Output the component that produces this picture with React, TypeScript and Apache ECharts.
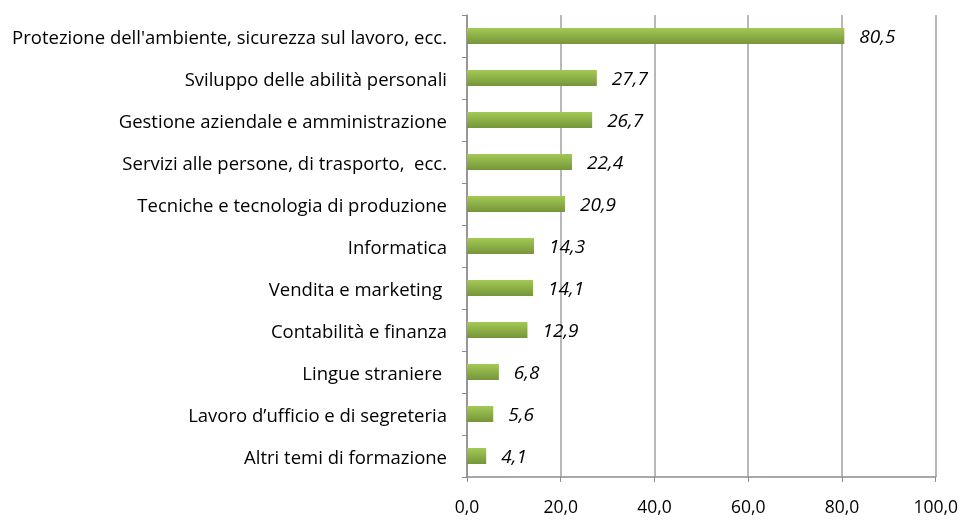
import React, { useEffect, useRef } from "react";
import * as echarts from "echarts";

const categories = [
  "Altri temi di formazione",
  "Lavoro d\u2019ufficio e di segreteria",
  "Lingue straniere ",
  "Contabilità e finanza",
  "Vendita e marketing ",
  "Informatica",
  "Tecniche e tecnologia di produzione",
  "Servizi alle persone, di trasporto,  ecc.",
  "Gestione aziendale e amministrazione",
  "Sviluppo delle abilità personali",
  "Protezione dell'ambiente, sicurezza sul lavoro, ecc.",
];
const values = [4.1, 5.6, 6.8, 12.9, 14.1, 14.3, 20.9, 22.4, 26.7, 27.7, 80.5];

const fmt = (v: number) => v.toFixed(1).replace(".", ",");
const FONT = "Open Sans";

export default function App() {
  const ref = useRef<HTMLDivElement>(null);
  useEffect(() => {
    const chart = echarts.init(ref.current!, null, { renderer: "svg" });
    chart.setOption({
      animation: false,
      grid: { left: 467, right: 24, top: 15, bottom: 43, containLabel: false },
      xAxis: {
        type: "value",
        min: 0,
        max: 100,
        interval: 20,
        axisLine: { show: true, lineStyle: { color: "#8c8c8c", width: 1.5 } },
        axisTick: { show: true, length: 5, lineStyle: { color: "#8c8c8c" } },
        splitLine: { show: true, lineStyle: { color: "#a0a0a0", width: 1.5 } },
        axisLabel: {
          formatter: (v: number) => fmt(v),
          color: "#000",
          fontSize: 17.5,
          fontFamily: FONT,
          margin: 20,
        },
      },
      yAxis: {
        type: "category",
        data: categories,
        axisLine: { show: true, lineStyle: { color: "#8c8c8c", width: 1.5 } },
        axisTick: { show: true, length: 5, lineStyle: { color: "#8c8c8c" } },
        axisLabel: {
          color: "#000",
          fontSize: 18.5,
          fontFamily: FONT,
          margin: 20,
        },
      },
      series: [
        {
          type: "bar",
          data: values,
          barWidth: 16,
          itemStyle: {
            color: new echarts.graphic.LinearGradient(0, 0, 0, 1, [
              { offset: 0, color: "#a3c955" },
              { offset: 1, color: "#76953a" },
            ]),
          },
          label: {
            show: true,
            position: "right",
            distance: 15,
            formatter: (p: any) => fmt(p.value),
            color: "#000",
            fontSize: 19,
            fontStyle: "italic",
            fontFamily: FONT,
          },
        },
      ],
    });
    return () => chart.dispose();
  }, []);
  return <div ref={ref} style={{ width: 961, height: 520, position: "fixed", left: 0, top: 0 }} />;
}
